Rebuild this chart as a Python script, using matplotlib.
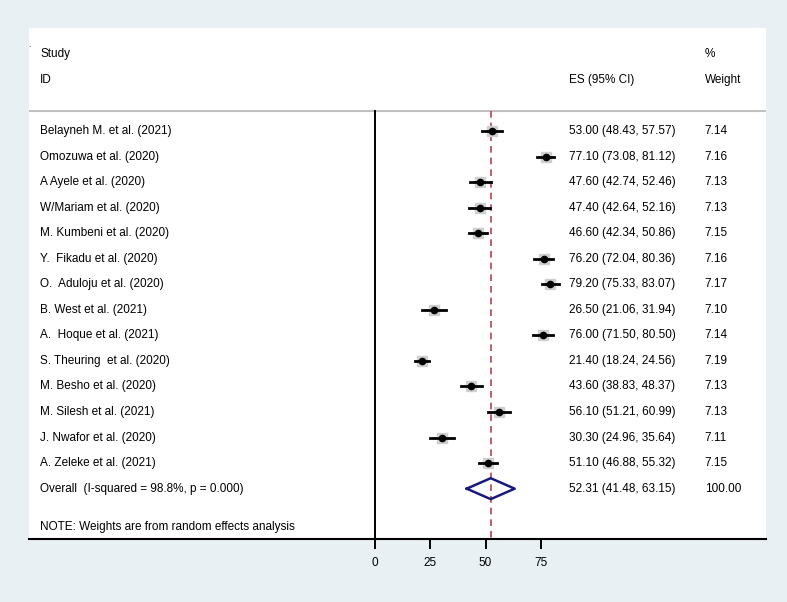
import numpy as np
import matplotlib
matplotlib.use('Agg')
import matplotlib.pyplot as plt

plt.rcParams['font.family'] = ['Liberation Sans', 'DejaVu Sans']

#%% data
studies = ['Belayneh M. et al. (2021)', 'Omozuwa et al. (2020)', 'A Ayele et al. (2020)',
           'W/Mariam et al. (2020)', 'M. Kumbeni et al. (2020)', 'Y.  Fikadu et al. (2020)',
           'O.  Aduloju et al. (2020)', 'B. West et al. (2021)', 'A.  Hoque et al. (2021)',
           'S. Theuring  et al. (2020)', 'M. Besho et al. (2020)', 'M. Silesh et al. (2021)',
           'J. Nwafor et al. (2020)', 'A. Zeleke et al. (2021)']
es = [53.00, 77.10, 47.60, 47.40, 46.60, 76.20, 79.20, 26.50, 76.00, 21.40, 43.60, 56.10, 30.30, 51.10]
lo = [48.43, 73.08, 42.74, 42.64, 42.34, 72.04, 75.33, 21.06, 71.50, 18.24, 38.83, 51.21, 24.96, 46.88]
hi = [57.57, 81.12, 52.46, 52.16, 50.86, 80.36, 83.07, 31.94, 80.50, 24.56, 48.37, 60.99, 35.64, 55.32]
weight = [7.14, 7.16, 7.13, 7.13, 7.15, 7.16, 7.17, 7.10, 7.14, 7.19, 7.13, 7.13, 7.11, 7.15]
overall_label = 'Overall  (I-squared = 98.8%, p = 0.000)'
overall_es, overall_lo, overall_hi, overall_w = 52.31, 41.48, 63.15, 100.00
xticks = [0, 25, 50, 75]

#%% figure
bg = '#e8f0f3'
fs = 8.5
fig = plt.figure(figsize=(7.87, 6.02), dpi=100, facecolor=bg)
ax = fig.add_axes([29/787, 63/602, 737/787, 511/602])
ax.set_facecolor('white')
ax.set_xlim(-156.3, 176.7)
ax.set_ylim(15.97, -4.03)

for s in ['top', 'right', 'left']:
    ax.spines[s].set_visible(False)
ax.spines['bottom'].set_linewidth(1.5)
ax.set_yticks([])
ax.set_xticks(xticks)
ax.set_xticklabels([str(t) for t in xticks], fontsize=fs)
ax.tick_params(axis='x', direction='out', length=7, width=1.4, pad=6)

n = len(studies)
rows = np.arange(n)
tr = ax.get_yaxis_transform()  # x in axes frac, y in data

# header
ax.axhline(-0.78, color='#c0c0c0', lw=1.5)
ax.text(0.015, -3.01, 'Study', fontsize=fs, va='center', transform=tr)
ax.text(0.015, -2.0, 'ID', fontsize=fs, va='center', transform=tr)
ax.text(0.733, -2.0, 'ES (95% CI)', fontsize=fs, va='center', transform=tr)
ax.text(0.917, -3.01, '%', fontsize=fs, va='center', transform=tr)
ax.text(0.917, -2.0, 'Weight', fontsize=fs, va='center', transform=tr)
ax.text(-0.001, -3.35, '.', fontsize=6, va='center', transform=tr)

# zero line and null line
ax.plot([0, 0], [-0.78, 15.97], color='black', lw=1.4)
ax.plot([overall_es, overall_es], [-0.78, 15.97], color='#b5434f', lw=1.2, ls=(0, (4, 3)))

# studies
for i in range(n):
    ax.plot(es[i], rows[i], 's', color='#cfcfcf', ms=7, zorder=2)
    ax.plot([lo[i], hi[i]], [rows[i], rows[i]], color='black', lw=2, zorder=3)
    ax.plot(es[i], rows[i], 'o', color='black', ms=4.5, zorder=4)
    ax.text(0.015, rows[i], studies[i], fontsize=fs, va='center', transform=tr)
    ax.text(0.733, rows[i], '%.2f (%.2f, %.2f)' % (es[i], lo[i], hi[i]), fontsize=fs, va='center', transform=tr)
    ax.text(0.917, rows[i], '%.2f' % weight[i], fontsize=fs, va='center', transform=tr)

# overall diamond
yo = n
dx = [overall_lo, overall_es, overall_hi, overall_es, overall_lo]
dy = [yo, yo - 0.41, yo, yo + 0.41, yo]
ax.plot(dx, dy, color='#1a1a7a', lw=1.8, zorder=4)
ax.text(0.015, yo, overall_label, fontsize=fs, va='center', transform=tr)
ax.text(0.733, yo, '%.2f (%.2f, %.2f)' % (overall_es, overall_lo, overall_hi), fontsize=fs, va='center', transform=tr)
ax.text(0.917, yo, '%.2f' % overall_w, fontsize=fs, va='center', transform=tr)

ax.text(0.015, 15.5, 'NOTE: Weights are from random effects analysis', fontsize=fs, va='center', transform=tr)

fig.savefig('out.png', dpi=100, facecolor=bg)
